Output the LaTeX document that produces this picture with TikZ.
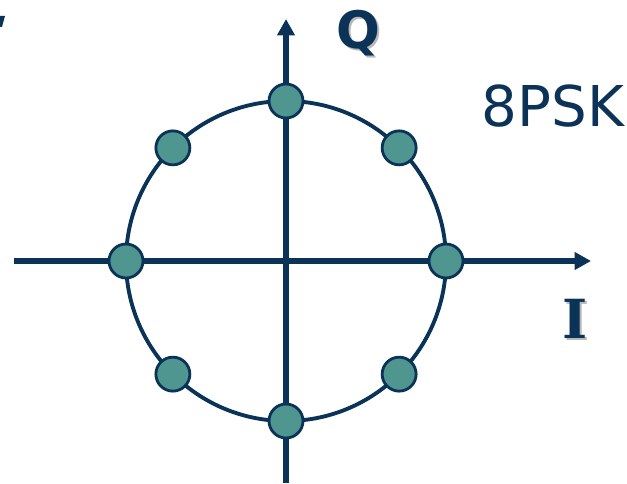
\documentclass[tikz,border=0pt]{standalone}
\usepackage{fontspec}
\setmainfont{DejaVu Sans}
\newfontfamily\serfont{DejaVu Serif}
\usetikzlibrary{arrows.meta, positioning, calc}
\definecolor{navyA}{HTML}{0B3358}
\definecolor{tealP}{HTML}{4E968F}
\definecolor{shadowG}{HTML}{B8B8B8}
\newcommand{\shadowtxt}[1]{\makebox[0pt][l]{\raisebox{-2pt}{\hspace{2pt}\textcolor{shadowG}{#1}}}\textcolor{navyA}{#1}}

\begin{document}
\begin{tikzpicture}[
  x=0.03cm, y=-0.03cm,
  axis/.style={-{Triangle[length=14pt,width=14.5pt]}, line width=4.3pt, navyA},
  ring/.style={line width=3.3pt, navyA},
  symb/.style={circle, draw=navyA, fill=tealP, line width=2.4pt,
    minimum size=29pt, inner sep=0pt},
  axlabel/.style={font=\fontsize{44}{44}\selectfont\bfseries, inner sep=0pt}
]
\useasboundingbox (0,0) rectangle (627,483);

%% axes
\coordinate (o) at (286,261);
\coordinate (xl) at (14,261);
\coordinate (xr) at (591,261);
\coordinate (yb) at (286,483);
\coordinate (yt) at (286,19);
\draw[axis] (xl) -- (xr);
\draw[axis] (yb) -- (yt);

%% circle
\draw[ring] (o) circle (160);

%% constellation points
\foreach \k in {0,...,7}
  \node[symb] (s\k) at ($(o)+(\k*45:160)$) {};

%% labels
\node[axlabel] (qlab) at (358,34) {\shadowtxt{Q}};
\node[axlabel, font=\serfont\fontsize{46}{46}\selectfont\bfseries] (ilab) at (575,320) {\shadowtxt{I}};
\node[text=navyA, font=\fontsize{48}{48}\selectfont] (mod) at (553,106) {8PSK};

%% clipped fragment
\fill[navyA] (0,16) -- (5,16) -- (2,27) -- (0,27) -- cycle;
\end{tikzpicture}
\end{document}
